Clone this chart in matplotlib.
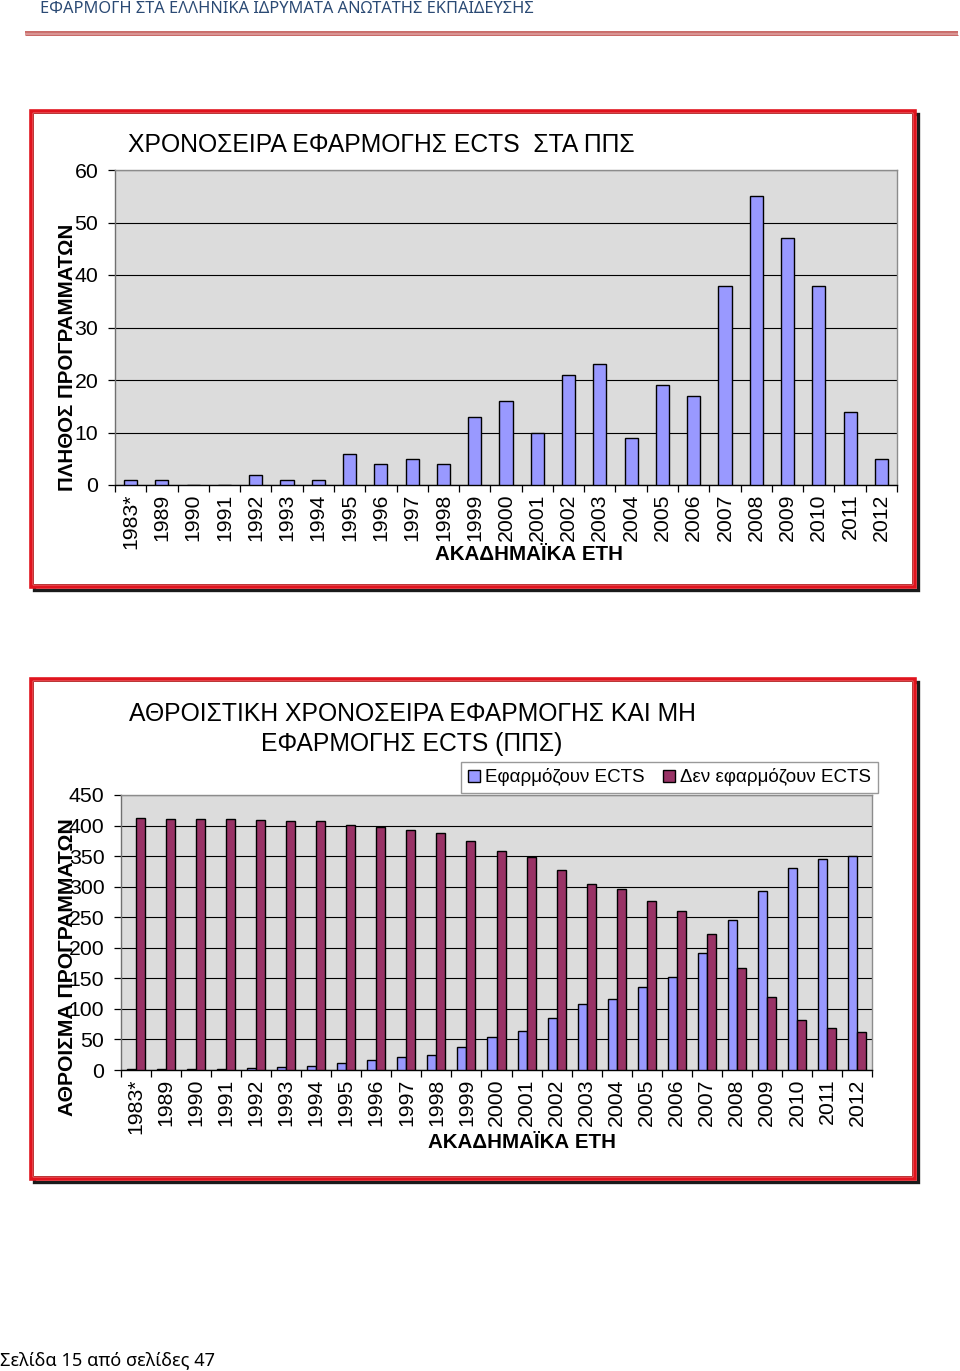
import matplotlib
matplotlib.use("Agg")
import matplotlib.pyplot as plt
from matplotlib.patches import Rectangle, Patch
import numpy as np

# ---------------- data ----------------
years = ["1983*", "1989", "1990", "1991", "1992", "1993", "1994", "1995", "1996",
         "1997", "1998", "1999", "2000", "2001", "2002", "2003", "2004", "2005",
         "2006", "2007", "2008", "2009", "2010", "2011", "2012"]
programs_per_year = [1, 1, 0, 0, 2, 1, 1, 6, 4, 5, 4, 13, 16, 10, 21, 23, 9, 19,
                     17, 38, 55, 47, 38, 14, 5]
ects_cumulative = [1, 2, 2, 2, 4, 5, 6, 12, 16, 21, 25, 38, 54, 64, 85, 108, 117,
                   136, 153, 191, 246, 293, 331, 345, 350]
non_ects = [412, 411, 411, 411, 409, 408, 407, 401, 397, 392, 388, 375, 359, 349,
            328, 305, 296, 277, 260, 222, 167, 120, 82, 68, 63]

yticks1 = [0, 10, 20, 30, 40, 50, 60]
yticks2 = [0, 50, 100, 150, 200, 250, 300, 350, 400, 450]

title1 = "ΧΡΟΝΟΣΕΙΡΑ ΕΦΑΡΜΟΓΗΣ ECTS  ΣΤΑ ΠΠΣ"
title2a = "ΑΘΡΟΙΣΤΙΚΗ ΧΡΟΝΟΣΕΙΡΑ ΕΦΑΡΜΟΓΗΣ ΚΑΙ ΜΗ"
title2b = "ΕΦΑΡΜΟΓΗΣ ECTS (ΠΠΣ)"
ylabel1 = "ΠΛΗΘΟΣ ΠΡΟΓΡΑΜΜΑΤΩΝ"
ylabel2 = "ΑΘΡΟΙΣΜΑ ΠΡΟΓΡΑΜΜΑΤΩΝ"
xlabel = "ΑΚΑΔΗΜΑΪΚΑ ΕΤΗ"
legend_labels = ["Εφαρμόζουν ECTS", "Δεν εφαρμόζουν ECTS"]
header = "ΕΦΑΡΜΟΓΗ ΣΤΑ ΕΛΛΗΝΙΚΑ ΙΔΡΥΜΑΤΑ ΑΝΩΤΑΤΗΣ ΕΚΠΑΙΔΕΥΣΗΣ"
footer = "Σελίδα 15 από σελίδες 47"

# ---------------- style ----------------
W, H = 960, 1371
plt.rcParams['font.family'] = ['Liberation Sans', 'DejaVu Sans']
BLUE = "#9999FF"
MAROON = "#993366"
PLOTBG = "#DCDCDC"
TICKFS = 15.3
TITLEFS = 17.8

fig = plt.figure(figsize=(W / 100, H / 100), dpi=100)
fig.patch.set_facecolor("white")

# background axes in pixel coordinates
bg = fig.add_axes([0, 0, 1, 1])
bg.set_xlim(0, W)
bg.set_ylim(H, 0)
bg.axis("off")
bg.set_zorder(0)

# header text and double line
bg.text(40, 9, header, fontsize=11.8, color="#2B4A74", va="center", ha="left",
        family=["Noto Sans", "DejaVu Sans"])
bg.plot([25, 958], [31.5, 31.5], color="#C0504D", lw=1.2, solid_capstyle="butt")
bg.plot([25, 958], [33.5, 33.5], color="#D99594", lw=1.6, solid_capstyle="butt")
bg.plot([25, 958], [35, 35], color="#C0504D", lw=0.6, solid_capstyle="butt")

# footer
bg.text(0, 1360, footer, fontsize=13.1, color="black", va="center", ha="left",
        family=["Noto Sans", "DejaVu Sans"])


def frame(x0, y0, x1, y1):
    # shadow
    bg.add_patch(Rectangle((x0 + 3, y0 + 3), x1 - x0, y1 - y0, fill=False,
                           edgecolor="#1a1a1a", lw=2.4, zorder=1))
    bg.add_patch(Rectangle((x0, y0), x1 - x0, y1 - y0, facecolor="white",
                           edgecolor="#E0141E", lw=2.6, zorder=2))
    bg.add_patch(Rectangle((x0 + 2.5, y0 + 2.5), x1 - x0 - 5, y1 - y0 - 5,
                           fill=False, edgecolor="#B01010", lw=0.6, zorder=3))


frame(30.5, 110.5, 914.5, 586.5)
frame(30.5, 678.5, 914.5, 1178.5)


def px_axes(x0, y0, x1, y1):
    return fig.add_axes([x0 / W, 1 - y1 / H, (x1 - x0) / W, (y1 - y0) / H])


def style_axes(ax, yticks, ymax):
    n = len(years)
    ax.set_facecolor(PLOTBG)
    ax.set_xlim(-0.5, n - 0.5)
    ax.set_ylim(0, ymax)
    ax.set_yticks(yticks)
    ax.set_yticklabels([str(v) for v in yticks], fontsize=TICKFS)
    ax.grid(axis="y", color="black", lw=0.8, zorder=0)
    ax.set_axisbelow(True)
    # boundaries as major ticks, labels at centers as minor ticks
    ax.set_xticks(np.arange(-0.5, n, 1.0))
    ax.set_xticklabels([])
    ax.set_xticks(np.arange(n), minor=True)
    ax.set_xticklabels(years, minor=True, rotation=90, fontsize=TICKFS)
    ax.tick_params(axis="x", which="major", length=5, width=0.9, color="black",
                   direction="out")
    ax.tick_params(axis="x", which="minor", length=0, pad=6)
    ax.tick_params(axis="y", length=5, width=0.9, color="black", pad=7)
    for s in ["top", "right"]:
        ax.spines[s].set_color("#8C8C8C")
        ax.spines[s].set_linewidth(1.0)
    ax.spines["left"].set_color("#707070")
    ax.spines["left"].set_linewidth(1.0)
    ax.spines["bottom"].set_color("black")
    ax.spines["bottom"].set_linewidth(1.0)


# ---------------- chart 1 ----------------
ax1 = px_axes(115, 170, 897, 485)
ax1.set_zorder(5)
x = np.arange(len(years))
ax1.bar(x, programs_per_year, width=0.42, color=BLUE, edgecolor="black",
        linewidth=1.0, zorder=3)
style_axes(ax1, yticks1, 60)

bg.text(128, 145, title1, fontsize=TITLEFS, ha="left", va="center", zorder=10)
fig.text(68 / W, 1 - 357 / H, ylabel1, rotation=90, fontsize=14.8,
         fontweight="bold", ha="center", va="center", zorder=10)
fig.text(529 / W, 1 - 554 / H, xlabel, fontsize=14.8, fontweight="bold",
         ha="center", va="center", zorder=10)

# ---------------- chart 2 ----------------
ax2 = px_axes(121, 795, 872, 1070)
ax2.set_zorder(5)
bw = 0.3
ax2.bar(x - bw / 2, ects_cumulative, width=bw, color=BLUE, edgecolor="black",
        linewidth=1.0, zorder=3)
ax2.bar(x + bw / 2, non_ects, width=bw, color=MAROON, edgecolor="black",
        linewidth=1.0, zorder=3)
style_axes(ax2, yticks2, 450)

bg.text(412, 714, title2a, fontsize=TITLEFS, ha="center", va="center", zorder=10)
bg.text(412, 744, title2b, fontsize=TITLEFS, ha="center", va="center", zorder=10)
fig.text(68 / W, 1 - 967 / H, ylabel2, rotation=90, fontsize=15.2,
         fontweight="bold", ha="center", va="center", zorder=10)
fig.text(522 / W, 1 - 1143 / H, xlabel, fontsize=14.8, fontweight="bold",
         ha="center", va="center", zorder=10)

handles = [Patch(facecolor=BLUE, edgecolor="black", lw=1.0),
           Patch(facecolor=MAROON, edgecolor="black", lw=1.0)]
leg = fig.legend(handles, legend_labels, ncol=2, loc="center",
                 bbox_to_anchor=(669.5 / W, 1 - 777.5 / H), fontsize=13.5,
                 frameon=True, fancybox=False, edgecolor="#808080",
                 handlelength=0.65, handleheight=0.65, handletextpad=0.25,
                 columnspacing=1.0, borderpad=0.35, borderaxespad=0)
leg.get_frame().set_linewidth(1.0)
leg.set_zorder(20)

fig.savefig("out.png", dpi=100, facecolor="white")
